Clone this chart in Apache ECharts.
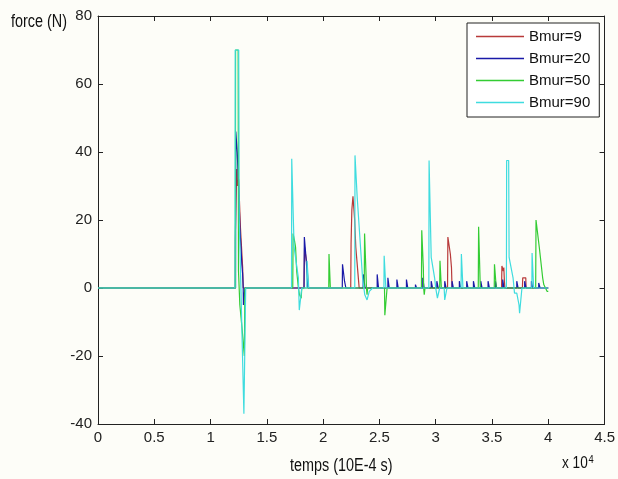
<!DOCTYPE html>
<html>
<head>
<meta charset="utf-8">
<script src="https://cdn.jsdelivr.net/npm/echarts@6/dist/echarts.min.js"></script>
<style>
html,body{margin:0;padding:0;background:#fdfdf8;}
#c{width:618px;height:479px;}
</style>
</head>
<body>
<div id="c"></div>
<script>
// x in units of 10^4 samples (temps, 10E-4 s), y = force (N)
var seriesNames = ['Bmur=9', 'Bmur=20', 'Bmur=50', 'Bmur=90'];
var xTickLabels = ['0', '0.5', '1', '1.5', '2', '2.5', '3', '3.5', '4', '4.5'];
var yTickLabels = ['-40', '-20', '0', '20', '40', '60', '80'];

var bmur9 = [
  [0,0],[1.218,0],[1.219,14],[1.225,24],[1.232,35],[1.24,30],[1.25,32],[1.255,27],[1.265,18],[1.275,12],[1.285,6],[1.29,0],
  [1.83,0],[1.835,12],[1.85,12],[1.855,7],[1.865,7],[1.87,0],
  [2.245,0],[2.248,13],[2.255,23],[2.265,27],[2.275,27],[2.28,20],[2.29,12],[2.305,12],[2.31,4],[2.32,0],
  [3.105,0],[3.108,15],[3.125,15],[3.13,10],[3.14,6],[3.145,0],
  [3.585,0],[3.588,6.5],[3.6,5],[3.605,6],[3.61,2],[3.615,0],
  [3.77,0],[3.773,3],[3.8,3],[3.803,0],
  [4.0,0]
];

var bmur20 = [
  [0,0],[1.222,0],[1.224,46],[1.235,46],[1.237,40],[1.245,33],[1.25,30],[1.26,18],[1.27,12],[1.278,7],[1.285,4],[1.29,0],[1.292,-5],[1.302,-5],[1.305,0],
  [1.83,0],[1.833,15],[1.845,15],[1.85,8],[1.86,8],[1.865,0],
  [2.17,0],[2.172,7],[2.185,7],[2.19,2],[2.2,2],[2.202,0],
  [2.355,0],[2.358,4],[2.37,4],[2.372,0],
  [2.48,0],[2.48,4],[2.492,4],[2.492,0],
  [2.575,0],[2.575,3],[2.587,3],[2.587,0],
  [2.655,0],[2.655,2.5],[2.667,2.5],[2.667,0],
  [2.74,0],[2.74,2.5],[2.752,2.5],[2.752,0],
  [2.82,0],[2.82,1],[2.83,1],[2.83,0],
  [2.885,0],[2.885,3],[2.897,3],[2.897,0],
  [2.96,0],[2.96,2],[2.972,2],[2.972,0],
  [3.01,0],[3.01,2],[3.022,2],[3.022,0],
  [3.08,0],[3.08,2],[3.092,2],[3.092,0],
  [3.145,0],[3.145,2],[3.157,2],[3.157,0],
  [3.21,0],[3.21,2],[3.222,2],[3.222,0],
  [3.275,0],[3.275,2],[3.287,2],[3.287,0],
  [3.335,0],[3.335,2],[3.347,2],[3.347,0],
  [3.40,0],[3.40,2],[3.412,2],[3.412,0],
  [3.465,0],[3.465,2],[3.477,2],[3.477,0],
  [3.53,0],[3.53,2],[3.542,2],[3.542,0],
  [3.595,0],[3.595,2.5],[3.607,2.5],[3.607,0],
  [3.72,0],[3.72,2],[3.732,2],[3.732,0],
  [3.79,0],[3.79,2],[3.802,2],[3.802,0],
  [3.85,0],[3.85,2],[3.862,2],[3.862,0],
  [3.915,0],[3.915,1.5],[3.927,1.5],[3.927,0],
  [4.0,0]
];

var bmur50 = [
  [0,0],[1.22,0],[1.222,70],[1.245,70],[1.248,5],[1.26,-5],[1.28,-12],[1.295,-18],[1.3,-20],[1.305,0],
  [1.73,0],[1.733,16],[1.745,14],[1.755,12],[1.765,5],[1.78,0],[1.79,-2],[1.805,-3],[1.81,0],
  [2.05,0],[2.052,10],[2.062,10],[2.064,0],
  [2.365,0],[2.368,16],[2.378,16],[2.38,5],[2.385,0],[2.39,-2],[2.395,0],
  [2.545,0],[2.548,-8],[2.565,-8],[2.568,0],
  [2.873,0],[2.876,17],[2.886,17],[2.89,6],[2.893,0],[2.898,-2],[2.905,0],
  [3.035,0],[3.038,8],[3.048,8],[3.05,0],
  [3.378,0],[3.381,18],[3.393,18],[3.396,0],
  [3.52,0],[3.522,7],[3.535,7],[3.538,0],
  [3.888,0],[3.891,20],[3.905,20],[3.92,12],[3.95,3],[3.96,1],[3.975,0],[3.99,-1],[4.0,-1]
];

var bmur90 = [
  [0,0],[1.217,0],[1.219,70],[1.25,70],[1.255,20],[1.296,-37],[1.31,-37],[1.312,0],
  [1.719,0],[1.721,38],[1.737,38],[1.742,12],[1.78,3],[1.788,-6.5],[1.796,-6.5],[1.81,0],
  [1.855,0],[1.857,8],[1.87,8],[1.872,0],
  [2.281,0],[2.283,39],[2.298,39],[2.302,27],[2.35,3],[2.37,-2],[2.39,-3.5],[2.41,-1],[2.44,0],
  [2.54,0],[2.542,9.5],[2.555,9.5],[2.557,0],
  [2.939,0],[2.941,37.5],[2.956,37.5],[2.96,9],[2.99,3],[3.0,0],[3.015,-3],[3.03,-3],[3.035,0],[3.075,0],[3.08,-3.5],[3.095,-3.5],[3.1,0],
  [3.225,0],[3.228,10],[3.24,10],[3.242,0],
  [3.628,0],[3.63,37.5],[3.648,37.5],[3.652,9],[3.687,3],[3.7,-1.5],[3.72,-1.5],[3.74,-5],[3.745,-7.4],[3.76,-7.4],[3.766,0],
  [3.854,0],[3.856,10.3],[3.868,10.3],[3.87,0],
  [4.0,0]
];

var colors = ['#b83a3a', '#1a1aa8', '#33cc33', '#3fdcdf'];
var dataSets = [bmur9, bmur20, bmur50, bmur90];

var FONT = "'Liberation Sans', Arial, sans-serif";

var chart = echarts.init(document.getElementById('c'), null, {renderer: 'canvas'});

var baseX = {
  type: 'value', min: 0, max: 4.5, interval: 0.5,
  axisLine: {show: true, onZero: false, lineStyle: {color: '#222', width: 1}},
  axisTick: {show: true, inside: true, length: 5, lineStyle: {color: '#222'}},
  splitLine: {show: false}
};
var baseY = {
  type: 'value', min: -40, max: 80, interval: 20,
  axisLine: {show: true, onZero: false, lineStyle: {color: '#222', width: 1}},
  axisTick: {show: true, inside: true, length: 5, lineStyle: {color: '#222'}},
  splitLine: {show: false}
};

var option = {
  animation: false,
  backgroundColor: '#fdfdf8',
  grid: {left: 98, top: 16, right: 7, bottom: 55, containLabel: false},
  xAxis: [
    Object.assign({}, baseX, {
      position: 'bottom',
      axisLabel: {show: true, margin: 6, color: '#222', fontFamily: FONT, fontSize: 15,
        formatter: function (v) { var i = Math.round(v / 0.5); return xTickLabels[i]; }}
    }),
    Object.assign({}, baseX, {position: 'top', axisLabel: {show: false}})
  ],
  yAxis: [
    Object.assign({}, baseY, {
      position: 'left',
      axisLabel: {show: true, margin: 6, color: '#222', fontFamily: FONT, fontSize: 15,
        formatter: function (v) { var i = Math.round((v + 40) / 20); return yTickLabels[i]; }}
    }),
    Object.assign({}, baseY, {position: 'right', axisLabel: {show: false}})
  ],
  legend: {
    show: true, orient: 'vertical', left: 467, top: 23,
    padding: [6, 9, 7, 9], itemGap: 7,
    itemWidth: 48, itemHeight: 1.5, icon: 'rect',
    borderColor: '#222', borderWidth: 1, backgroundColor: '#ffffff',
    textStyle: {fontFamily: FONT, fontSize: 15, color: '#111', lineHeight: 15},
    data: seriesNames
  },
  series: seriesNames.map(function (n, i) {
    return {
      name: n, type: 'line', data: dataSets[i], symbol: 'none', showSymbol: false,
      xAxisIndex: 0, yAxisIndex: 0,
      lineStyle: {color: colors[i], width: 1.2}, itemStyle: {color: colors[i]},
      clip: true, z: 2 + i
    };
  }),
  graphic: [
    {type: 'text', x: 11, y: 13, scaleX: 0.8, style: {text: 'force (N)', fontFamily: FONT, fontSize: 18, fill: '#111'}},
    {type: 'text', x: 290, y: 457, scaleX: 0.8, style: {text: 'temps (10E-4 s)', fontFamily: FONT, fontSize: 18, fill: '#111'}},
    {type: 'text', x: 562, y: 454, scaleX: 0.85, style: {
      text: 'x 10{s|4}', fontFamily: FONT, fontSize: 16, fill: '#111',
      rich: {s: {fontFamily: FONT, fontSize: 11, fill: '#111', verticalAlign: 'top', padding: [0, 0, 9, 1]}}
    }}
  ]
};
chart.setOption(option);
</script>
</body>
</html>
